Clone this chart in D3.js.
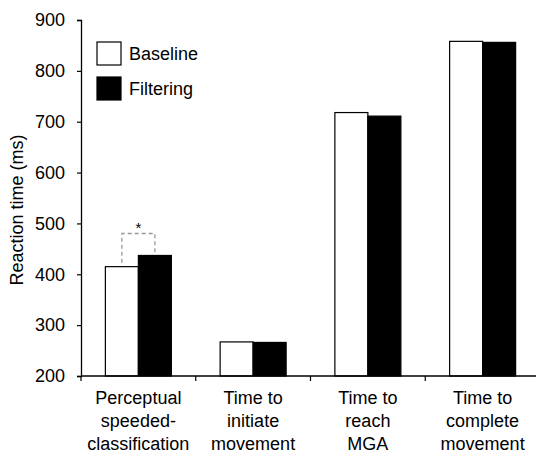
<!DOCTYPE html>
<html>
<head>
<meta charset="utf-8">
<script src="https://d3js.org/d3.v7.min.js"></script>
<style>
  body { margin: 0; background: #fff; }
  svg { display: block; font-family: "Liberation Sans", Arial, sans-serif; }
</style>
</head>
<body>
<svg id="chart"></svg>
<script>
// Chart data
const categories = [
  ["Perceptual", "speeded-", "classification"],
  ["Time to", "initiate", "movement"],
  ["Time to", "reach", "MGA"],
  ["Time to", "complete", "movement"]
];
const seriesNames = ["Baseline", "Filtering"];
const baseline = [415, 267, 718, 858];
const filtering = [437, 266, 711, 856];
const yTicks = [200, 300, 400, 500, 600, 700, 800, 900];

const width = 536, height = 453;
const svg = d3.select("#chart").attr("width", width).attr("height", height);

const x = d3.scaleBand()
  .domain(d3.range(categories.length))
  .range([81, 540]);
const y = d3.scaleLinear().domain([200, 900]).range([376, 20]);

const barW = 33;

// Bars
categories.forEach((c, i) => {
  const cx = x(i) + x.bandwidth() / 2;
  [baseline[i], filtering[i]].forEach((v, s) => {
    svg.append("rect")
      .attr("x", cx - barW + s * barW)
      .attr("y", y(v))
      .attr("width", barW)
      .attr("height", y(200) - y(v))
      .attr("fill", s === 0 ? "#fff" : "#000")
      .attr("stroke", "#000")
      .attr("stroke-width", 1.2);
  });
});

// Y axis
const yAxis = svg.append("g")
  .attr("transform", "translate(81,0)")
  .call(d3.axisLeft(y).tickValues(yTicks).tickSize(4).tickPadding(12));
yAxis.select(".domain").attr("stroke", "#000").attr("stroke-width", 1.3);
yAxis.selectAll(".tick line").attr("stroke-width", 1.2);
yAxis.selectAll("text").attr("font-size", 18).attr("fill", "#000")
  .attr("font-family", "Liberation Sans, Arial, sans-serif");

// X axis
const xAxis = svg.append("g")
  .attr("transform", "translate(0,376)");
xAxis.append("line")
  .attr("x1", 81).attr("x2", 540).attr("stroke", "#000").attr("stroke-width", 1.3);
xAxis.selectAll(".xt")
  .data(d3.range(categories.length))
  .join("line")
  .attr("x1", d => x(d)).attr("x2", d => x(d))
  .attr("y1", 0).attr("y2", 5)
  .attr("stroke", "#000").attr("stroke-width", 1.2);

// Category labels
categories.forEach((lines, i) => {
  const t = svg.append("text")
    .attr("x", x(i) + x.bandwidth() / 2)
    .attr("text-anchor", "middle")
    .attr("font-size", 18)
    .attr("fill", "#000");
  lines.forEach((l, k) => {
    t.append("tspan")
      .attr("x", x(i) + x.bandwidth() / 2)
      .attr("y", 404 + k * 23)
      .text(l);
  });
});

// Y label
svg.append("text")
  .attr("transform", "translate(23,210) rotate(-90)")
  .attr("text-anchor", "middle")
  .attr("font-size", 18)
  .attr("fill", "#000")
  .text("Reaction time (ms)");

// Significance bracket
const c0 = x(0) + x.bandwidth() / 2;
const bx1 = c0 - barW / 2, bx2 = c0 + barW / 2, by = 233.5;
svg.append("path")
  .attr("d", `M${bx1},${y(baseline[0]) - 4}V${by}H${bx2}V${y(filtering[0]) - 2}`)
  .attr("fill", "none")
  .attr("stroke", "#999")
  .attr("stroke-width", 1.3)
  .attr("stroke-dasharray", "4,3");
svg.append("text")
  .attr("x", c0).attr("y", 233)
  .attr("text-anchor", "middle")
  .attr("font-size", 15)
  .text("*");

// Legend
seriesNames.forEach((n, k) => {
  const ly = 42 + k * 35;
  svg.append("rect")
    .attr("x", 97).attr("y", ly).attr("width", 24).attr("height", 23)
    .attr("fill", k === 0 ? "#fff" : "#000")
    .attr("stroke", "#000").attr("stroke-width", 1.2);
  svg.append("text")
    .attr("x", 129).attr("y", ly + 18)
    .attr("font-size", 18)
    .attr("fill", "#000")
    .text(n);
});
</script>
</body>
</html>
